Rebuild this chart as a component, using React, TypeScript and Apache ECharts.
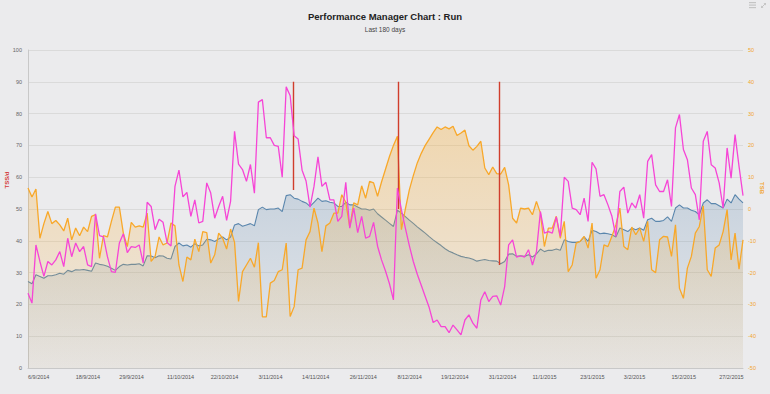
import React, { useEffect, useRef } from "react";
import * as echarts from "echarts";

const startDate = { year: 2014, month: 9, day: 6 };
const dayCount = 181;

const tickLabels = [
  "6/9/2014", "18/9/2014", "29/9/2014", "11/10/2014", "22/10/2014", "3/11/2014",
  "14/11/2014", "26/11/2014", "8/12/2014", "19/12/2014", "31/12/2014", "11/1/2015",
  "23/1/2015", "3/2/2015", "15/2/2015", "27/2/2015",
];

// CTL (TSS/d, left axis)
const ctl = [
  27.2, 26.5, 29.3, 28.8, 28.2, 29, 29, 29.3, 29.8, 29.5,
  30.7, 30.3, 30.9, 30.8, 31, 30.7, 30.4, 33, 32.6, 32.4,
  32, 31.4, 30.7, 31.9, 32.6, 32.4, 32.6, 32.6, 32.8, 32.1,
  35.3, 35.2, 34.7, 35.3, 35.2, 34.5, 34.3, 38.2, 39.3, 38.4,
  38.7, 38, 39.1, 38.4, 38.7, 40.5, 40.3, 39.8, 40.6, 41.2,
  40.3, 41.2, 45, 45.4, 44.6, 45, 45.4, 44.7, 49.8, 50.6,
  49.8, 50, 50, 50.3, 49.2, 54.2, 54.5, 53.4, 53.1, 52.4,
  51.9, 50.8, 52.1, 53.4, 52.4, 52.6, 52.1, 51.9, 50.8, 50.8,
  52.1, 51.3, 51.3, 50.6, 50, 50, 49.6, 50, 48.5, 47.5,
  46.5, 45.5, 44.5, 49.6, 48.7, 47.6, 46.5, 45.5, 44.4, 43.4,
  42.4, 41.3, 40.3, 39.4, 38.5, 37.5, 36.7, 36.2, 35.6, 35.1,
  34.8, 34.6, 34.2, 33.6, 33.9, 34.1, 33.8, 33.7, 33.6, 32.8,
  33.5, 35.8, 35.9, 35.1, 35.3, 35.1, 35.6, 34.9, 35.9, 37.4,
  36.6, 37, 37, 37.4, 37, 40.3, 39.8, 39.5, 39.5, 39.8,
  41.2, 39.8, 43.3, 42.9, 42.2, 42.4, 42.2, 41.9, 41.2, 44,
  43.5, 42.9, 44, 43.5, 44, 43.3, 46.6, 47.1, 46.1, 46.1,
  46.4, 47.5, 46.1, 50.3, 51.3, 50.3, 50.3, 49.6, 49.2, 48.2,
  51.9, 52.9, 51.7, 51.7, 51, 50.3, 53.1, 51.9, 54.5, 53.1,
  51.9,
];

// ATL (TSS/d, left axis)
const atl = [
  23.5, 20.4, 38.7, 33.5, 28.8, 33.5, 32.4, 34, 36.6, 31.9,
  40.8, 35, 39.3, 36.6, 38.2, 32.4, 31.9, 48.5, 41.6, 41.2,
  35, 30.3, 30.1, 39.3, 42.2, 36.3, 38.2, 37.9, 38.7, 33,
  52.1, 50.8, 43.5, 46.8, 45.8, 39.5, 38.4, 57.1, 62.2, 53.8,
  55.2, 47.7, 52.9, 45.6, 46.1, 58.2, 55, 47.1, 50.8, 54,
  46.4, 52.4, 74.4, 64.1, 62.4, 58.7, 64, 55, 83.6, 84.4,
  72.4, 72.4, 70, 69.7, 60, 88.4, 85.6, 73, 72, 62.2,
  58.8, 50.6, 57.1, 66.4, 57.1, 58.4, 52.9, 52.9, 46.1, 47.7,
  58.4, 44, 50.3, 42.6, 47.7, 40.8, 41.4, 45.8, 38.3, 34,
  30.5, 26.5, 21.4, 56.6, 49.8, 44, 38.5, 33.5, 29.5, 26,
  22.5, 19, 14.3, 15.1, 13, 13, 11.1, 13.5, 12, 10.4,
  15.1, 16.7, 14.1, 12.5, 21.4, 24, 20.9, 22.5, 22.7, 19.8,
  25.6, 38.7, 40.3, 34.9, 35.3, 34.9, 37.2, 32.4, 36.6, 49.2,
  42.4, 42.9, 42.4, 47.5, 41.4, 60, 58.7, 50.3, 49.8, 48.2,
  53.4, 46.1, 64.7, 62.6, 54, 54.5, 51.3, 47.7, 41.4, 55.5,
  56.9, 48.7, 51.9, 50.3, 54.5, 47.1, 65, 67.1, 57.6, 55.5,
  55.5, 59.2, 50.8, 75.5, 79.7, 68.7, 65.5, 56.6, 54.5, 46.6,
  71.3, 74.4, 63.9, 62.9, 58.2, 50.3, 69.2, 59.7, 73.4, 63.4,
  54.2,
];

// TSB (right axis)
const tsb = [
  6.6, 3.8, 6.3, -9.2, -4.6, -0.8, -4.6, -3.6, -5, -6.9,
  -2.9, -9.7, -6, -8.4, -5.7, -7.1, -2.3, -1.8, -15.5, -8.4,
  -8.8, -3.9, 0.6, 0.6, -7.6, -11.8, -4.2, -5.7, -5.3, -5.7,
  -1.3, -16.5, -14.9, -8.8, -11.3, -10.7, -4.4, -5.3, -17.6, -22.8,
  -15.1, -16, -9.5, -13.4, -7.1, -7.4, -17, -14.4, -7.6, -9.2,
  -12.6, -6.3, -10.5, -29.1, -19.7, -17.6, -15.5, -18.3, -10.6, -33.9,
  -33.9, -23.3, -22.5, -19.7, -19.1, -10.7, -33.8, -30.7, -19.1, -18.6,
  -9.7, -7.1, 0.3, -4.4, -13.4, -5.3, -4.4, -1.3, -1.3, 4.5,
  2.1, -5.7, 1.9, 1.3, 7.3, 3.4, 8.7, 8.2, 4, 8.5,
  12.5, 16.5, 20, 22.9, -6.5, 0, 6, 10.5, 14.5, 17.5,
  20, 22, 24, 25.8, 25, 25.8, 25.2, 26, 23.1, 23.9,
  24.8, 19.9, 18.5, 19.7, 21.3, 12.9, 10.8, 13.2, 11.1, 11,
  13.1, 7.6, -2.9, -4.4, 0.3, 0, 0.3, -1.8, 2.4, -1.3,
  -11.8, -6, -6, -2.3, -9.2, -3.9, -19.7, -17.6, -10.7, -10.2,
  -8.6, -12.3, -4.4, -21.8, -19.1, -11.3, -11.8, -8.6, -5, 0.3,
  -11.8, -12.8, -5.7, -8.1, -6, -10.2, -3.9, -19.1, -20, -9.7,
  -8.6, -8.8, -14.9, -5, -24.9, -28.1, -18.6, -14.9, -7.6, -5.5,
  1, -19.1, -21.2, -12.3, -11.3, -7.1, -0.2, -16, -7.6, -18.9,
  -9.7,
];

// race / event markers (day index from start), drawn up to 90 TSS/d
const eventDays = [66.7, 93.1, 118.6];
const eventTop = [90, 90, 90];
const eventBottom = [56, 50, 32.4];

function buildDates(): string[] {
  const out: string[] = [];
  const d0 = new Date(startDate.year, startDate.month - 1, startDate.day, 12);
  for (let i = 0; i < dayCount; i++) {
    const d = new Date(d0.getTime() + i * 86400000);
    out.push(`${d.getDate()}/${d.getMonth() + 1}/${d.getFullYear()}`);
  }
  return out;
}

export default function App() {
  const ref = useRef<HTMLDivElement>(null);
  useEffect(() => {
    if (!ref.current) return;
    const chart = echarts.init(ref.current, null, { renderer: "svg" });
    const dates = buildDates();
    const font = "'Liberation Sans', Arial, sans-serif";
    const grad = (c: string, y1: number, a1: number, y2: number, a2: number) =>
      new echarts.graphic.LinearGradient(
        0, y1, 0, y2,
        [
          { offset: 0, color: `rgba(${c},${a1})` },
          { offset: 1, color: `rgba(${c},${a2})` },
        ],
        true
      );
    chart.setOption({
      animation: false,
      backgroundColor: "#ebebed",
      textStyle: { fontFamily: font },
      title: {
        text: "Performance Manager Chart : Run",
        subtext: "Last 180 days",
        left: "center",
        top: 6,
        itemGap: 5,
        textStyle: { fontSize: 9.5, fontWeight: "bold", color: "#222", fontFamily: font },
        subtextStyle: { fontSize: 6.5, color: "#444", fontFamily: font },
      },
      grid: { left: 28, right: 27, top: 50, bottom: 26, containLabel: false },
      xAxis: [
        {
          type: "category",
          data: dates,
          boundaryGap: false,
          axisLine: { show: true, lineStyle: { color: "#c8c8c8", width: 1 } },
          axisTick: { show: false },
          splitLine: { show: false },
          axisLabel: {
            interval: (_i: number, v: string) => tickLabels.includes(v),
            align: "left",
            fontSize: 5.5,
            color: "#555",
            margin: 6,
            hideOverlap: false,
          },
        },
        { type: "value", min: 0, max: dayCount - 1, show: false },
      ],
      yAxis: [
        {
          type: "value",
          min: 0,
          max: 100,
          interval: 10,
          axisLine: { show: true, lineStyle: { color: "#c8c8c8" } },
          axisTick: { show: false },
          axisLabel: { fontSize: 5.5, color: "#666", margin: 6 },
          splitLine: { show: true, lineStyle: { color: "#dadada", width: 1 } },
        },
        {
          type: "value",
          position: "right",
          min: -50,
          max: 50,
          interval: 10,
          axisLine: { show: false },
          axisTick: { show: false },
          axisLabel: { fontSize: 5.5, color: "#f2a52e", margin: 5 },
          splitLine: { show: false },
        },
      ],
      graphic: [
        {
          type: "text",
          x: 7,
          y: 180,
          rotation: Math.PI / 2,
          style: { text: "TSS/d", fill: "#d43a3a", font: `bold 6px ${font}`, align: "center", verticalAlign: "middle" },
        },
        {
          type: "text",
          x: 762,
          y: 188,
          rotation: -Math.PI / 2,
          style: { text: "TSB", fill: "#f2a52e", font: `bold 6px ${font}`, align: "center", verticalAlign: "middle" },
        },
        { type: "rect", shape: { x: 749, y: 2, width: 7, height: 1.2 }, style: { fill: "#c4c4c4" } },
        { type: "rect", shape: { x: 749, y: 4.5, width: 7, height: 1.2 }, style: { fill: "#c4c4c4" } },
        { type: "rect", shape: { x: 749, y: 7, width: 7, height: 1.2 }, style: { fill: "#c4c4c4" } },
        { type: "line", shape: { x1: 761, y1: 8, x2: 766, y2: 3 }, style: { stroke: "#c4c4c4", lineWidth: 1 } },
        { type: "polygon", shape: { points: [[761, 8], [761, 5.5], [763.5, 8]] }, style: { fill: "#c4c4c4" } },
        { type: "polygon", shape: { points: [[766, 3], [763.5, 3], [766, 5.5]] }, style: { fill: "#c4c4c4" } },
      ],
      series: [
        {
          name: "CTL",
          type: "line",
          xAxisIndex: 0,
          yAxisIndex: 0,
          data: ctl,
          symbol: "none",
          lineStyle: { color: "#5a86ad", width: 1.1 },
          areaStyle: { color: grad("74,122,165", 170, 0.34, 368, 0.05) },
          z: 2,
        },
        {
          name: "TSB",
          type: "line",
          xAxisIndex: 0,
          yAxisIndex: 1,
          data: tsb,
          symbol: "none",
          lineStyle: { color: "#f8a82a", width: 1.3 },
          areaStyle: { origin: "start", color: grad("250,172,45", 110, 0.48, 368, 0.08) },
          z: 3,
        },
        {
          name: "Events",
          type: "lines",
          coordinateSystem: "cartesian2d",
          xAxisIndex: 1,
          yAxisIndex: 0,
          polyline: false,
          data: eventDays.map((d, i) => ({ coords: [[d, eventTop[i]], [d, eventBottom[i]]] })),
          lineStyle: { color: "#d03d2c", width: 1.4, opacity: 1 },
          z: 4,
        },
        {
          name: "ATL",
          type: "line",
          xAxisIndex: 0,
          yAxisIndex: 0,
          data: atl,
          symbol: "none",
          lineStyle: { color: "#f645d6", width: 1.3 },
          z: 5,
        },
      ],
    });
    return () => chart.dispose();
  }, []);
  return <div ref={ref} style={{ position: "absolute", left: 0, top: 0, width: 770, height: 394 }} />;
}
